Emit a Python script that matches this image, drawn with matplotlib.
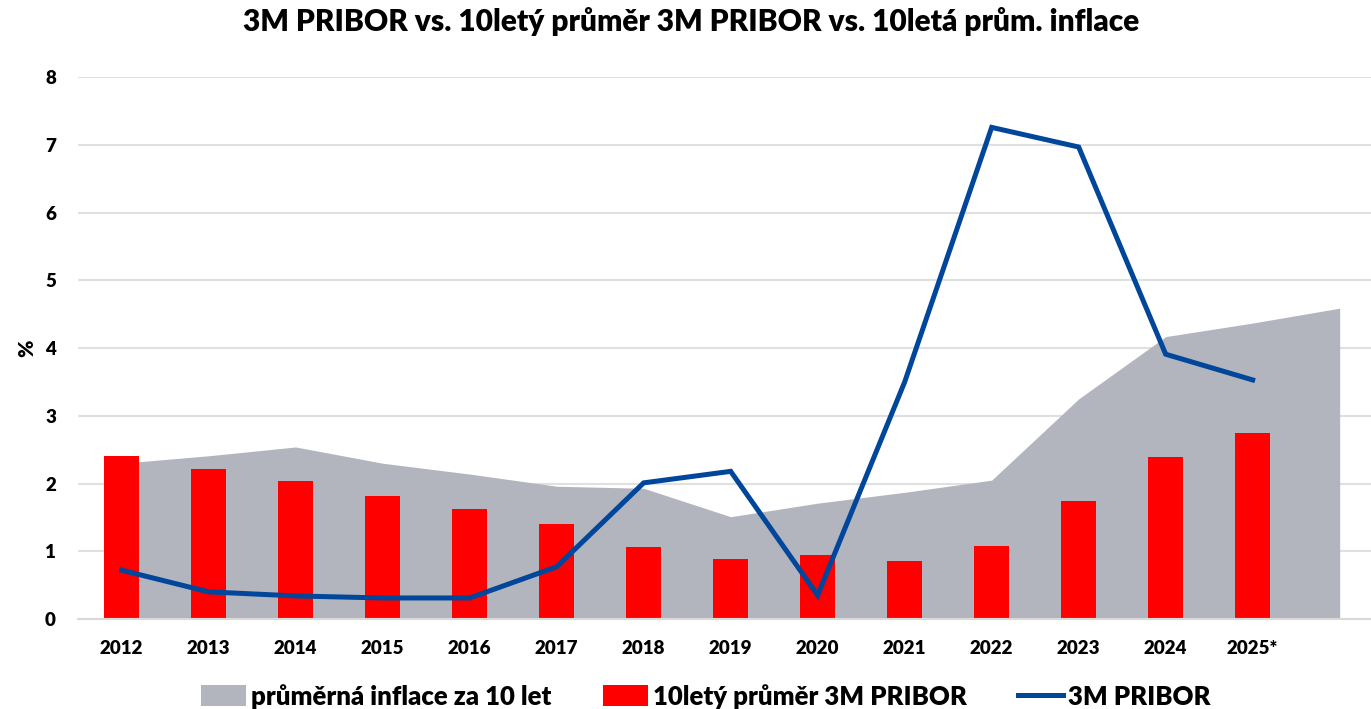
import numpy as np
import matplotlib
matplotlib.use("Agg")
import matplotlib.pyplot as plt

plt.rcParams['font.family'] = ['Lato', 'DejaVu Sans']
plt.rcParams['font.weight'] = 'heavy'

years = ["2012", "2013", "2014", "2015", "2016", "2017", "2018", "2019",
         "2020", "2021", "2022", "2023", "2024", "2025*"]
# 10leta prumerna inflace (one extra point past 2025)
inflace = [2.30, 2.41, 2.54, 2.30, 2.14, 1.96, 1.93, 1.51, 1.71, 1.87,
           2.05, 3.25, 4.17, 4.37, 4.59]
prumer_pribor = [2.41, 2.21, 2.04, 1.82, 1.62, 1.40, 1.06, 0.89, 0.94, 0.86,
                 1.08, 1.74, 2.39, 2.75]
pribor = [0.72, 0.40, 0.34, 0.31, 0.31, 0.77, 2.01, 2.18, 0.35, 3.50,
          7.26, 6.97, 3.91, 3.53]

fig = plt.figure(figsize=(13.71, 7.09), dpi=100)
ax = fig.add_axes([0.057, 0.127, 0.943, 0.764])

x_area = np.arange(len(inflace))
x = np.arange(len(years))

h1 = ax.fill_between(x_area, inflace, 0, color='#b2b4be', lw=0, zorder=1,
                     label='průměrná inflace za 10 let')
h2 = ax.bar(x, prumer_pribor, width=0.40, color='#ff0000', zorder=2,
            label='10letý průměr 3M PRIBOR')
h3, = ax.plot(x, pribor, color='#00469b', lw=3.6, zorder=3,
              solid_joinstyle='miter', label='3M PRIBOR')

ax.set_ylim(0, 8)
ax.set_xlim(-0.5, 14.36)
ax.set_yticks(range(0, 9))
ax.set_xticks(x)
ax.set_xticklabels(years)
ax.tick_params(axis='both', length=0, labelsize=13.5)
ax.tick_params(axis='x', pad=15)
ax.tick_params(axis='y', pad=16)
ax.yaxis.grid(True, color='#e0e0e0', lw=1.5, zorder=0)
ax.set_axisbelow(True)
for s in ['top', 'right', 'left']:
    ax.spines[s].set_visible(False)
ax.spines['bottom'].set_color('#d9d9d9')
ax.spines['bottom'].set_linewidth(1.5)

ax.set_ylabel('%', fontsize=15, fontweight='heavy', labelpad=6)

fig.suptitle('3M PRIBOR vs. 10letý průměr 3M PRIBOR vs. 10letá prům. inflace',
             fontsize=21.5, fontweight='heavy', y=0.99, x=0.504)

fig.legend(handles=[h1, h2, h3], loc='lower center',
           bbox_to_anchor=(0.515, -0.032), ncol=3, frameon=False,
           fontsize=18.5, handlelength=1.75, handleheight=0.9,
           columnspacing=2.0, handletextpad=0.2)

fig.savefig('out.png', dpi=100)
